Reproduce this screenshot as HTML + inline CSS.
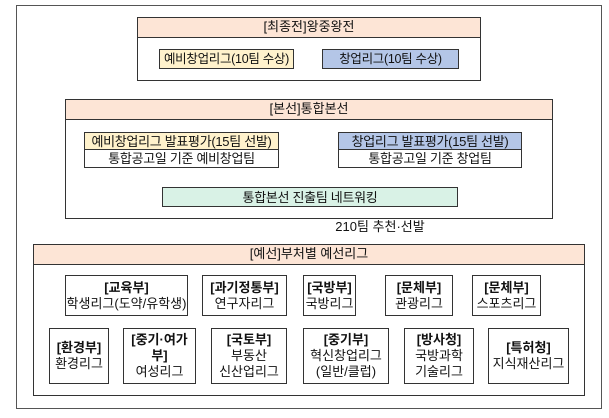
<!DOCTYPE html>
<html><head><meta charset="utf-8"><style>
body{margin:0;width:609px;height:418px;background:#fff;position:relative;overflow:hidden;font-family:"Liberation Sans","Noto Sans CJK KR","NanumGothic",sans-serif;font-size:13px;color:#111}
.b{position:absolute;box-sizing:border-box;border:1px solid #333}
.h{position:absolute;left:0;right:0;top:0;background:#fde5d6;border-bottom:1px solid #333;text-align:center;white-space:nowrap}
.c{position:absolute;box-sizing:border-box;border:1px solid #333;display:flex;align-items:center;justify-content:center;text-align:center;line-height:17px;white-space:nowrap;letter-spacing:-0.3px}
.d{font-size:13px;line-height:16px;letter-spacing:0}
.d b{font-weight:bold}
</style></head><body>
<div class="b" style="left:16px;top:5px;width:586px;height:404px;border-color:#555"></div>

<div class="b" style="left:137px;top:17px;width:344px;height:64px">
 <div class="h" style="height:19px;line-height:18px">[최종전]왕중왕전</div>
</div>
<div class="c" style="left:159px;top:49px;width:135px;height:20px;background:#fff2cc;font-size:12.5px">예비창업리그(10팀 수상)</div>
<div class="c" style="left:322px;top:49px;width:137px;height:20px;background:#b4c6e7;font-size:12.5px">창업리그(10팀 수상)</div>

<div class="b" style="left:65px;top:99px;width:488px;height:120px">
 <div class="h" style="height:19px;line-height:18px">[본선]통합본선</div>
</div>
<div class="c" style="left:84px;top:132px;width:195px;height:18px;background:#fff2cc">예비창업리그 발표평가(15팀 선발)</div>
<div class="c" style="left:84px;top:149px;width:195px;height:19px;background:#fff">통합공고일 기준 예비창업팀</div>
<div class="c" style="left:338px;top:132px;width:184px;height:18px;background:#b4c6e7">창업리그 발표평가(15팀 선발)</div>
<div class="c" style="left:338px;top:149px;width:184px;height:19px;background:#fff">통합공고일 기준 창업팀</div>
<div class="c" style="left:162px;top:187px;width:296px;height:20px;background:#d9f2e6">통합본선 진출팀 네트워킹</div>

<div style="position:absolute;left:320px;top:219px;width:120px;text-align:center;line-height:16px;white-space:nowrap">210팀 추천·선발</div>

<div class="b" style="left:33px;top:244px;width:552px;height:152px">
 <div class="h" style="height:19px;line-height:18px">[예선]부처별 예선리그</div>
</div>

<div class="c d" style="left:65px;top:275px;width:123px;height:41px"><div><b>[교육부]</b><br>학생리그(도약/유학생)</div></div>
<div class="c d" style="left:202px;top:275px;width:85px;height:41px"><div><b>[과기정통부]</b><br>연구자리그</div></div>
<div class="c d" style="left:303px;top:275px;width:53px;height:41px"><div><b>[국방부]</b><br>국방리그</div></div>
<div class="c d" style="left:385px;top:275px;width:68px;height:41px"><div><b>[문체부]</b><br>관광리그</div></div>
<div class="c d" style="left:472px;top:275px;width:69px;height:41px"><div><b>[문체부]</b><br>스포츠리그</div></div>

<div class="c d" style="left:49px;top:328px;width:60px;height:56px"><div><b>[환경부]</b><br>환경리그</div></div>
<div class="c d" style="left:123px;top:328px;width:73px;height:56px"><div><b>[중기·여가<br>부]</b><br>여성리그</div></div>
<div class="c d" style="left:211px;top:328px;width:76px;height:56px"><div><b>[국토부]</b><br>부동산<br>신산업리그</div></div>
<div class="c d" style="left:303px;top:328px;width:86px;height:56px"><div><b>[중기부]</b><br>혁신창업리그<br>(일반/클럽)</div></div>
<div class="c d" style="left:404px;top:328px;width:70px;height:56px"><div><b>[방사청]</b><br>국방과학<br>기술리그</div></div>
<div class="c d" style="left:488px;top:328px;width:81px;height:56px"><div><b>[특허청]</b><br>지식재산리그</div></div>
</body></html>
